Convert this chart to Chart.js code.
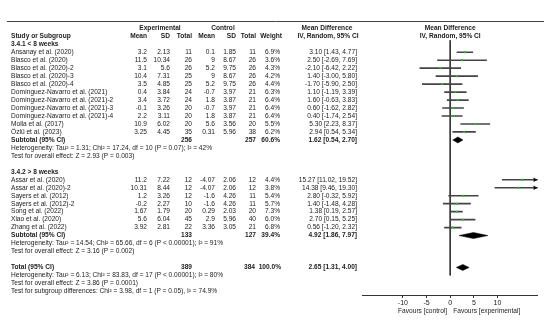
<!DOCTYPE html>
<html>
<head>
<meta charset="utf-8">
<script src="https://cdn.jsdelivr.net/npm/chart.js@4.4.1/dist/chart.umd.min.js"></script>
<style>
  html, body { margin: 0; padding: 0; background: #fff; }
  #wrap { width: 550px; height: 325px; }
</style>
</head>
<body>
<div id="wrap"><canvas id="forest"></canvas></div>
<script>
// study rows, in drawing order
const study = [
  'Ansanay et al. (2020)', 'Blasco et al. (2020)', 'Blasco et al. (2020)-2', 'Blasco et al. (2020)-3',
  'Blasco et al. (2020)-4', 'Domínguez-Navarro et al. (2021)', 'Domínguez-Navarro et al. (2021)-2',
  'Domínguez-Navarro et al. (2021)-3', 'Domínguez-Navarro et al. (2021)-4', 'Molla et al. (2017)',
  'Özlü et al. (2023)',
  'Assar et al. (2020)', 'Assar et al. (2020)-2', 'Sayers et al. (2012)', 'Sayers et al. (2012)-2',
  'Song et al. (2022)', 'Xiao et al. (2020)', 'Zhang et al. (2022)'
];
const group   = [0,0,0,0,0,0,0,0,0,0,0, 1,1,1,1,1,1,1];
const expMean = [3.2, 11.5, 3.1, 10.4, 3.5, 0.4, 3.4, -0.1, 2.2, 10.9, 3.25, 11.2, 10.31, 1.2, -0.2, 1.67, 5.6, 3.92];
const expSD   = [2.13, 10.34, 5.6, 7.31, 4.85, 3.84, 3.72, 3.26, 3.11, 6.02, 4.45, 7.22, 8.44, 3.26, 2.27, 1.79, 6.04, 2.81];
const expN    = [11, 26, 26, 25, 25, 24, 24, 20, 20, 20, 35, 12, 12, 12, 10, 20, 45, 22];
const ctlMean = [0.1, 9, 5.2, 9, 5.2, -0.7, 1.8, -0.7, 1.8, 5.6, 0.31, -4.07, -4.07, -1.6, -1.6, 0.29, 2.9, 3.36];
const ctlSD   = [1.85, 8.67, 9.75, 8.67, 9.75, 3.97, 3.87, 3.97, 3.87, 3.56, 5.96, 2.06, 2.06, 4.26, 4.26, 2.03, 5.96, 3.05];
const ctlN    = [11, 26, 26, 26, 26, 21, 21, 21, 21, 20, 38, 12, 12, 11, 11, 20, 40, 21];
const weight  = [6.9, 3.6, 4.3, 4.2, 4.4, 6.3, 6.4, 6.4, 6.4, 5.5, 6.2, 4.4, 3.8, 5.4, 5.7, 7.3, 6.0, 6.8];
const md      = [3.10, 2.50, -2.10, 1.40, -1.70, 1.10, 1.60, 0.60, 0.40, 5.30, 2.94, 15.27, 14.38, 2.80, 1.40, 1.38, 2.70, 0.56];
const ciLow   = [1.43, -2.69, -6.42, -3.00, -5.90, -1.19, -0.63, -1.62, -1.74, 2.23, 0.54, 11.02, 9.46, -0.32, -1.48, 0.19, 0.15, -1.20];
const ciHigh  = [4.77, 7.69, 2.22, 5.80, 2.50, 3.39, 3.83, 2.82, 2.54, 8.37, 5.34, 19.52, 19.30, 5.92, 4.28, 2.57, 5.25, 2.32];

// subgroups
const subLabel  = ['3.4.1 < 8 weeks', '3.4.2 > 8 weeks'];
const subExpN   = [256, 133];
const subCtlN   = [257, 127];
const subWeight = [60.6, 39.4];
const subMd     = [1.62, 4.92];
const subLow    = [0.54, 1.86];
const subHigh   = [2.70, 7.97];
const subHet = [
  'Heterogeneity: Tau² = 1.31; Chi² = 17.24, df = 10 (P = 0.07); I² = 42%',
  'Heterogeneity: Tau² = 14.54; Chi² = 65.66, df = 6 (P < 0.00001); I² = 91%'
];
const subTest = [
  'Test for overall effect: Z = 2.93 (P = 0.003)',
  'Test for overall effect: Z = 3.16 (P = 0.002)'
];

// overall
const totalExpN = 389, totalCtlN = 384, totalWeight = 100.0;
const totalMd = 2.65, totalLow = 1.31, totalHigh = 4.00;
const totalNotes = [
  'Heterogeneity: Tau² = 6.13; Chi² = 83.83, df = 17 (P < 0.00001); I² = 80%',
  'Test for overall effect: Z = 3.86 (P = 0.0001)',
  'Test for subgroup differences: Chi² = 3.98, df = 1 (P = 0.05), I² = 74.9%'
];

const xTicks = [-10, -5, 0, 5, 10];
const X_MIN = -18.5, X_MAX = 18.5;

// ---- build row layout ----
const rows = [];   // {kind, ...}
let r = 0;
const studyRow = [], subRow = [];
for (let g = 0; g < subLabel.length; g++) {
  rows.push({ kind: 'head', y: r++, text: subLabel[g] });
  study.forEach((s, i) => {
    if (group[i] !== g) return;
    studyRow[i] = r;
    rows.push({ kind: 'study', y: r++, i: i });
  });
  subRow[g] = r;
  rows.push({ kind: 'sub', y: r++, g: g });
  rows.push({ kind: 'note', y: r++, text: subHet[g] });
  rows.push({ kind: 'note', y: r++, text: subTest[g] });
  r++; // blank
}
const totalRow = r;
rows.push({ kind: 'total', y: r++ });
totalNotes.forEach(t => rows.push({ kind: 'note', y: r++, text: t }));
const AXIS_ROW = totalRow + 1;

function diamond(lo, est, hi, y) {
  const h = 0.38;
  return [{x: lo, y: y}, {x: est, y: y - h}, {x: hi, y: y}, {x: est, y: y + h}, {x: lo, y: y}];
}

const FONT = '"Liberation Sans", Arial, sans-serif';
const FS = 6.6;
const INK = '#222';

const cols = { expMean: 147, expSD: 170, expN: 192, ctlMean: 215, ctlSD: 236, ctlN: 256, weight: 280, ci: 357 };

function ciText(m, lo, hi) {
  return m.toFixed(2) + ' [' + lo.toFixed(2) + ', ' + hi.toFixed(2) + ']';
}

const tablePlugin = {
  id: 'table',
  afterDraw(chart) {
    const ctx = chart.ctx;
    const ys = chart.scales.y, xs = chart.scales.x;
    const x0 = xs.getPixelForValue(0);
    const put = (t, x, y, align, bold) => {
      ctx.font = (bold ? 'bold ' : '') + FS + 'px ' + FONT;
      ctx.textAlign = align;
      ctx.fillText(t, x, y);
    };
    ctx.save();
    ctx.fillStyle = INK;
    ctx.textBaseline = 'middle';

    // headers
    const h1 = ys.getPixelForValue(-2), h2 = ys.getPixelForValue(-1);
    put('Experimental', 160, h1, 'center', true);
    put('Control', 223, h1, 'center', true);
    put('Mean Difference', 327, h1, 'center', true);
    put('Mean Difference', x0, h1, 'center', true);
    put('Study or Subgroup', 11, h2, 'left', true);
    put('Mean', cols.expMean, h2, 'right', true);
    put('SD', cols.expSD, h2, 'right', true);
    put('Total', cols.expN, h2, 'right', true);
    put('Mean', cols.ctlMean, h2, 'right', true);
    put('SD', cols.ctlSD, h2, 'right', true);
    put('Total', cols.ctlN, h2, 'right', true);
    put('Weight', 282, h2, 'right', true);
    put('IV, Random, 95% CI', 328, h2, 'center', true);
    put('IV, Random, 95% CI', x0, h2, 'center', true);

    // rule under header
    ctx.strokeStyle = '#444';
    ctx.lineWidth = 1;
    ctx.beginPath();
    ctx.moveTo(7, Math.round(chart.chartArea.top) + 0.5);
    ctx.lineTo(544, Math.round(chart.chartArea.top) + 0.5);
    ctx.stroke();

    rows.forEach(row => {
      const y = ys.getPixelForValue(row.y);
      if (row.kind === 'head') {
        put(row.text, 11, y, 'left', true);
      } else if (row.kind === 'note') {
        put(row.text, 11, y, 'left', false);
      } else if (row.kind === 'study') {
        const i = row.i;
        put(study[i], 11, y, 'left', false);
        put(String(expMean[i]), cols.expMean, y, 'right', false);
        put(String(expSD[i]), cols.expSD, y, 'right', false);
        put(String(expN[i]), cols.expN, y, 'right', false);
        put(String(ctlMean[i]), cols.ctlMean, y, 'right', false);
        put(String(ctlSD[i]), cols.ctlSD, y, 'right', false);
        put(String(ctlN[i]), cols.ctlN, y, 'right', false);
        put(weight[i].toFixed(1) + '%', cols.weight, y, 'right', false);
        put(ciText(md[i], ciLow[i], ciHigh[i]), cols.ci, y, 'right', false);
      } else if (row.kind === 'sub') {
        const g = row.g;
        put('Subtotal (95% CI)', 11, y, 'left', true);
        put(String(subExpN[g]), cols.expN, y, 'right', true);
        put(String(subCtlN[g]), cols.ctlN, y, 'right', true);
        put(subWeight[g].toFixed(1) + '%', cols.weight, y, 'right', true);
        put(ciText(subMd[g], subLow[g], subHigh[g]), cols.ci, y, 'right', true);
      } else if (row.kind === 'total') {
        put('Total (95% CI)', 11, y, 'left', true);
        put(String(totalExpN), cols.expN, y, 'right', true);
        put(String(totalCtlN), cols.ctlN - 1, y, 'right', true);
        put(totalWeight.toFixed(1) + '%', cols.weight + 1, y, 'right', true);
        put(ciText(totalMd, totalLow, totalHigh), cols.ci, y, 'right', true);
      }
    });

    // favours labels
    const fy = chart.chartArea.bottom + 16;
    put('Favours [control]', x0 - 3, fy, 'right', false);
    put('Favours [experimental]', x0 + 3, fy, 'left', false);
    ctx.restore();
  }
};

const ciBars = study.map((s, i) => ({ y: studyRow[i], x: [ciLow[i], ciHigh[i]] }));
const points = study.map((s, i) => ({ x: md[i], y: studyRow[i], w: weight[i] }));
const arrows = study.map((s, i) => ({ x: X_MAX - 0.6, y: studyRow[i], hi: ciHigh[i] })).filter(p => p.hi > X_MAX);

const datasets = [
  {
    type: 'scatter', data: [{x: 0, y: -0.5}, {x: 0, y: AXIS_ROW}],
    showLine: true, borderColor: '#333', borderWidth: 1, pointRadius: 0, order: 5
  },
  {
    type: 'bar', indexAxis: 'y', data: ciBars,
    backgroundColor: '#444', borderWidth: 0, barThickness: 1, grouped: false, order: 4
  },
  {
    type: 'scatter', data: arrows, pointStyle: 'triangle', rotation: 90,
    pointRadius: 2.6, backgroundColor: '#111', borderColor: '#111', borderWidth: 0, order: 3
  },
  {
    type: 'scatter', data: points, pointStyle: 'rect',
    pointRadius: 1.4, backgroundColor: '#2db82d', borderColor: '#2db82d', borderWidth: 0, order: 1
  }
];
subMd.forEach((m, g) => {
  datasets.push({
    type: 'scatter', data: diamond(subLow[g], m, subHigh[g], subRow[g]),
    showLine: true, fill: 'shape', tension: 0, backgroundColor: '#000', borderColor: '#000',
    borderWidth: 0.5, pointRadius: 0, order: 2
  });
});
datasets.push({
  type: 'scatter', data: diamond(totalLow, totalMd, totalHigh, totalRow),
  showLine: true, fill: 'shape', tension: 0, backgroundColor: '#000', borderColor: '#000',
  borderWidth: 0.5, pointRadius: 0, order: 2
});

new Chart(document.getElementById('forest'), {
  data: { datasets: datasets },
  options: {
    responsive: true,
    maintainAspectRatio: false,
    animation: false,
    devicePixelRatio: 1,
    layout: { padding: { left: 362.7, right: 12.3, top: 20.7, bottom: 0 } },
    plugins: { legend: { display: false }, tooltip: { enabled: false } },
    scales: {
      x: {
        type: 'linear', position: 'bottom', min: X_MIN, max: X_MAX,
        afterBuildTicks: s => { s.ticks = xTicks.map(v => ({ value: v })); },
        afterFit: s => { s.height = 30; },
        border: { display: true, color: '#333', width: 1 },
        grid: { drawOnChartArea: false, drawTicks: true, tickLength: 3, color: '#333' },
        ticks: { color: INK, font: { family: FONT, size: 7 }, padding: 1, autoSkip: false }
      },
      y: {
        type: 'linear', display: false, reverse: true, min: -0.5, max: AXIS_ROW
      }
    }
  },
  plugins: [tablePlugin]
});
</script>
</body>
</html>
